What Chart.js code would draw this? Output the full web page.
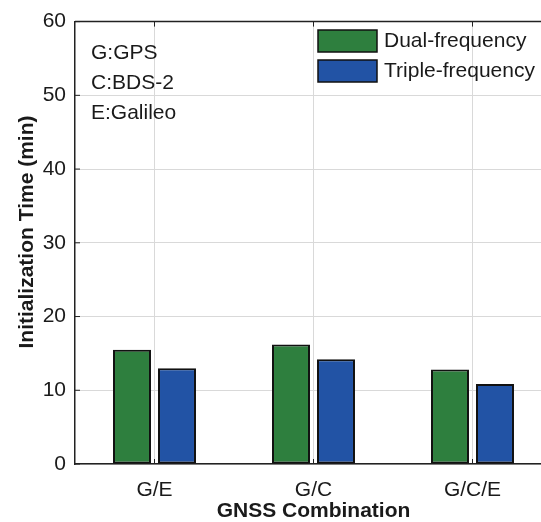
<!DOCTYPE html>
<html>
<head>
<meta charset="utf-8">
<script src="https://cdn.jsdelivr.net/npm/chart.js@4/dist/chart.umd.min.js"></script>
<style>
  html, body { margin: 0; padding: 0; background: #fff; overflow: hidden; }
  #wrap { position: absolute; left: 0; top: 0; width: 556px; height: 522px; }
</style>
</head>
<body>
<div id="wrap"><canvas id="initChart" width="556" height="522"></canvas></div>
<script>
// values
const categories = ['G/E', 'G/C', 'G/C/E'];
const dualFreq = [15.5, 16.2, 12.8];
const tripleFreq = [13.0, 14.2, 10.85];
const yTicks = [0, 10, 20, 30, 40, 50, 60];
const notes = ['G:GPS', 'C:BDS-2', 'E:Galileo'];
const yTitle = 'Initialization Time (min)';

const FONT = '"Liberation Sans", Arial, sans-serif';
const TEXT = '#1a1a1a';

// box top line, inward tick marks, custom legend, notes and y title
const framePlugin = {
    id: 'frame',
    afterDatasetsDraw(chart) {
        const { ctx, chartArea: a, scales } = chart;
        ctx.save();
        ctx.strokeStyle = '#222';
        ctx.lineWidth = 1.5;
        ctx.beginPath();
        ctx.moveTo(a.left, a.top);
        ctx.lineTo(a.right, a.top);
        ctx.stroke();

        // inward ticks
        ctx.lineWidth = 1;
        ctx.beginPath();
        yTicks.forEach(v => {
            const y = scales.y.getPixelForValue(v);
            ctx.moveTo(a.left, y);
            ctx.lineTo(a.left + 5, y);
        });
        categories.forEach((c, i) => {
            const x = scales.x.getPixelForValue(i);
            ctx.moveTo(x, a.bottom);
            ctx.lineTo(x, a.bottom - 5);
            ctx.moveTo(x, a.top);
            ctx.lineTo(x, a.top + 5);
        });
        ctx.stroke();

        // legend
        ctx.font = '21px ' + FONT;
        ctx.textBaseline = 'middle';
        ctx.textAlign = 'left';
        chart.data.datasets.forEach((ds, i) => {
            const y = 30 + i * 30;
            ctx.fillStyle = ds.backgroundColor;
            ctx.fillRect(318, y, 59, 22);
            ctx.strokeStyle = '#111';
            ctx.lineWidth = 1.5;
            ctx.strokeRect(318, y, 59, 22);
            ctx.fillStyle = TEXT;
            ctx.fillText(ds.label, 384, y + 11);
        });

        // notes
        notes.forEach((t, i) => {
            ctx.fillText(t, 91, 53 + i * 30);
        });

        // y title, sits a bit above the plot centre in the original
        ctx.translate(27, 232);
        ctx.rotate(-Math.PI / 2);
        ctx.textAlign = 'center';
        ctx.font = 'bold 21px ' + FONT;
        ctx.fillText(yTitle, 0, 0);
        ctx.restore();
    }
};

new Chart(document.getElementById('initChart').getContext('2d'), {
    type: 'bar',
    data: {
        labels: categories,
        datasets: [
            {
                label: 'Dual-frequency',
                data: dualFreq,
                backgroundColor: '#2e7f3e',
                borderColor: '#111',
                borderWidth: 2,
                borderSkipped: false,
                categoryPercentage: 0.566,
                barPercentage: 0.844
            },
            {
                label: 'Triple-frequency',
                data: tripleFreq,
                backgroundColor: '#2253a5',
                borderColor: '#111',
                borderWidth: 2,
                borderSkipped: false,
                categoryPercentage: 0.566,
                barPercentage: 0.844
            }
        ]
    },
    options: {
        responsive: false,
        animation: false,
        layout: { padding: { top: 20, right: 4, left: 0, bottom: 0 } },
        plugins: {
            legend: { display: false },
            tooltip: { enabled: false }
        },
        scales: {
            x: {
                grid: { color: '#d9d9d9', offset: false, drawTicks: false },
                border: { display: true, color: '#222', width: 1.5 },
                ticks: {
                    color: TEXT,
                    font: { family: FONT, size: 21 },
                    padding: 14
                },
                title: {
                    display: true,
                    text: 'GNSS Combination',
                    color: TEXT,
                    font: { family: FONT, size: 21, weight: 'bold', lineHeight: 1 },
                    padding: { top: 0, bottom: 0 }
                },
                afterFit(scale) { scale.height = 58; }
            },
            y: {
                min: 0,
                max: 60,
                grid: { color: '#d9d9d9', drawTicks: false },
                border: { display: true, color: '#222', width: 1.5 },
                afterBuildTicks(scale) {
                    scale.ticks = yTicks.map(v => ({ value: v }));
                },
                ticks: {
                    color: TEXT,
                    font: { family: FONT, size: 21 },
                    padding: 9
                },
                afterFit(scale) { scale.width = 75; }
            }
        }
    },
    plugins: [framePlugin]
});
</script>
</body>
</html>
